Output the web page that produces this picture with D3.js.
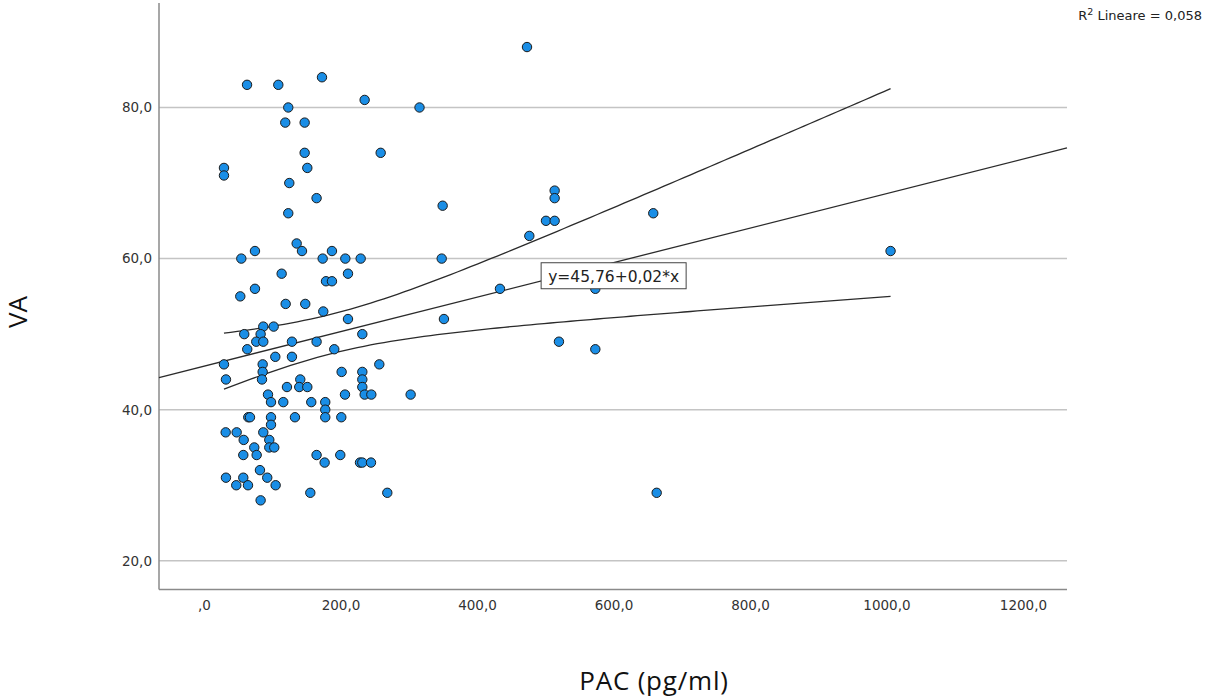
<!DOCTYPE html>
<html>
<head>
<meta charset="utf-8">
<script src="https://cdn.jsdelivr.net/npm/d3@7"></script>
<style>
  body { margin: 0; background: #fff; }
  svg { display: block; }
</style>
</head>
<body>
<svg id="chart" width="1205" height="699"></svg>
<script>
// PAC (pg/ml) vs VA
const pac = [63.1, 108.9, 172.9, 123.5, 235.4, 315.8, 119.1, 147.5, 147.5, 258.9,
  29.3, 29.3, 151.4, 125, 165, 349.7, 123.5, 135.8, 74.7, 143.6,
  187.5, 54.7, 173.9, 207.1, 229.6, 348.3, 113.8, 178.8, 187.5, 211,
  53.2, 74.7, 119.7, 148.4, 174.8, 211, 351.6, 86.9, 102.1, 59,
  83, 232, 76.6, 86.9, 128.9, 165, 63.4, 190.9, 104.5, 128.9,
  29.3, 86, 256.9, 32.2, 86, 85, 141.1, 201.7, 232, 232,
  121.6, 139.6, 151.4, 232, 93.8, 235.4, 245.2, 302.8, 206.6, 98.2,
  116.2, 157.2, 177.7, 177.7, 64.9, 67.4, 98.2, 133.3, 177.7, 201.2,
  98.2, 31.8, 47.9, 86.9, 58.2, 95.7, 73.7, 95.7, 103, 57.6,
  77.2, 165, 199.7, 82, 176.8, 228.6, 232, 244.7, 32.2, 57.6,
  92.7, 47.3, 64.5, 105, 155.8, 268.6, 83, 473.3, 513.8, 513.8,
  501.1, 513.8, 658.3, 476.7, 433.7, 573.4, 520.1, 573.4, 663.3, 1006];
const va = [83, 83, 84, 80, 81, 80, 78, 78, 74, 74,
  72, 71, 72, 70, 68, 67, 66, 62, 61, 61,
  61, 60, 60, 60, 60, 60, 58, 57, 57, 58,
  55, 56, 54, 54, 53, 52, 52, 51, 51, 50,
  50, 50, 49, 49, 49, 49, 48, 48, 47, 47,
  46, 46, 46, 44, 45, 44, 44, 45, 45, 44,
  43, 43, 43, 43, 42, 42, 42, 42, 42, 41,
  41, 41, 41, 40, 39, 39, 39, 39, 39, 39,
  38, 37, 37, 37, 36, 36, 35, 35, 35, 34,
  34, 34, 34, 32, 33, 33, 33, 33, 31, 31,
  31, 30, 30, 30, 29, 29, 28, 88, 69, 68,
  65, 65, 66, 63, 56, 56, 49, 48, 29, 61];

const xTicks = [0, 200, 400, 600, 800, 1000, 1200];
const yTicks = [20, 40, 60, 80];
// fit line as reported by the chart (slope)
const intercept = 45.76;
const slope = 0.02284;
const eqText = "y=45,76+0,02*x";
const r2Text = "0,058";

const svg = d3.select("#chart");
const pLeft = 159, pRight = 1067, pTop = 3, pBottom = 589.5;

const x = d3.scaleLinear().domain([-65.9, 1264.5]).range([pLeft, pRight]);
const y = d3.scaleLinear().domain([16.2, 93.83]).range([pBottom, pTop]);

const fmt = v => v === 0 ? ",0" : d3.format(".1f")(v).replace(".", ",");

// grid
svg.append("g")
  .selectAll("line")
  .data(yTicks)
  .join("line")
  .attr("x1", pLeft).attr("x2", pRight)
  .attr("y1", d => y(d)).attr("y2", d => y(d))
  .attr("stroke", "#c4c4c4")
  .attr("stroke-width", 1.5);

// axes
const yAxis = svg.append("g")
  .attr("transform", `translate(${pLeft},0)`)
  .call(d3.axisLeft(y).tickValues(yTicks).tickFormat(fmt).tickSize(0).tickPadding(7));
const xAxis = svg.append("g")
  .attr("transform", `translate(0,${pBottom})`)
  .call(d3.axisBottom(x).tickValues(xTicks).tickFormat(fmt).tickSize(0).tickPadding(11));
[yAxis, xAxis].forEach(a => {
  a.select(".domain").attr("stroke", "#8a8a8a").attr("stroke-width", 1.5);
  a.selectAll("text")
    .attr("font-family", "DejaVu Sans, sans-serif")
    .attr("font-size", 13.5)
    .attr("fill", "#333");
});
yAxis.select(".domain").attr("d", `M0,${pTop}V${pBottom}`);
xAxis.select(".domain").attr("d", `M${pLeft},0H${pRight}`);

// 95% CI of the mean around the fit
const n = pac.length;
const mx = d3.mean(pac);
const sxx = d3.sum(pac, p => (p - mx) ** 2);
const fit = v => intercept + slope * v;
const sse = d3.sum(pac, (p, i) => (va[i] - fit(p)) ** 2);
const s = Math.sqrt(sse / (n - 2));
const t = 1.979;
const half = v => t * s * Math.sqrt(1 / n + (v - mx) ** 2 / sxx);

const line = d3.line().x(d => x(d[0])).y(d => y(d[1]));
const xMin = d3.min(pac), xMax = d3.max(pac);
const ciX = d3.range(0, 101).map(i => xMin + (xMax - xMin) * i / 100);

const curves = [
  x.domain().map(v => [v, fit(v)]),
  ciX.map(v => [v, fit(v) + half(v)]),
  ciX.map(v => [v, fit(v) - half(v)])
];
svg.append("g")
  .selectAll("path")
  .data(curves)
  .join("path")
  .attr("d", line)
  .attr("fill", "none")
  .attr("stroke", "#2b2b2b")
  .attr("stroke-width", 1.3);

// points
svg.append("g")
  .selectAll("circle")
  .data(pac.map((p, i) => [p, va[i]]))
  .join("circle")
  .attr("cx", d => x(d[0]))
  .attr("cy", d => y(d[1]))
  .attr("r", 4.7)
  .attr("fill", "#1a8ee6")
  .attr("stroke", "#1b1b1b")
  .attr("stroke-width", 1);

// equation label
const lab = svg.append("g").attr("transform", `translate(${x(494)},${y(59.45)})`);
lab.append("rect")
  .attr("x", 0).attr("y", 0).attr("width", 145).attr("height", 26)
  .attr("fill", "#fff").attr("stroke", "#444").attr("stroke-width", 1);
lab.append("text")
  .attr("x", 72.5).attr("y", 19)
  .attr("text-anchor", "middle")
  .attr("font-family", "DejaVu Sans, sans-serif")
  .attr("font-size", 15.5)
  .attr("fill", "#222")
  .text(eqText);

// R2 note
const r2 = svg.append("text")
  .attr("x", 1202).attr("y", 19.5)
  .attr("text-anchor", "end")
  .attr("font-family", "DejaVu Sans, sans-serif")
  .attr("font-size", 13)
  .attr("fill", "#222");
r2.append("tspan").text("R");
r2.append("tspan").attr("font-size", 9.5).attr("dy", -5).text("2");
r2.append("tspan").attr("dy", 5).text(" Lineare = " + r2Text);

// titles
svg.append("text")
  .attr("transform", "translate(27,312) rotate(-90)")
  .attr("text-anchor", "middle")
  .attr("font-family", "Open Sans, sans-serif")
  .attr("font-size", 26)
  .attr("fill", "#111")
  .text("VA");
svg.append("text")
  .attr("x", 654).attr("y", 690)
  .attr("text-anchor", "middle")
  .attr("font-family", "Open Sans, sans-serif")
  .attr("font-size", 26)
  .attr("letter-spacing", 0.8)
  .attr("fill", "#111")
  .text("PAC (pg/ml)");
</script>
</body>
</html>
